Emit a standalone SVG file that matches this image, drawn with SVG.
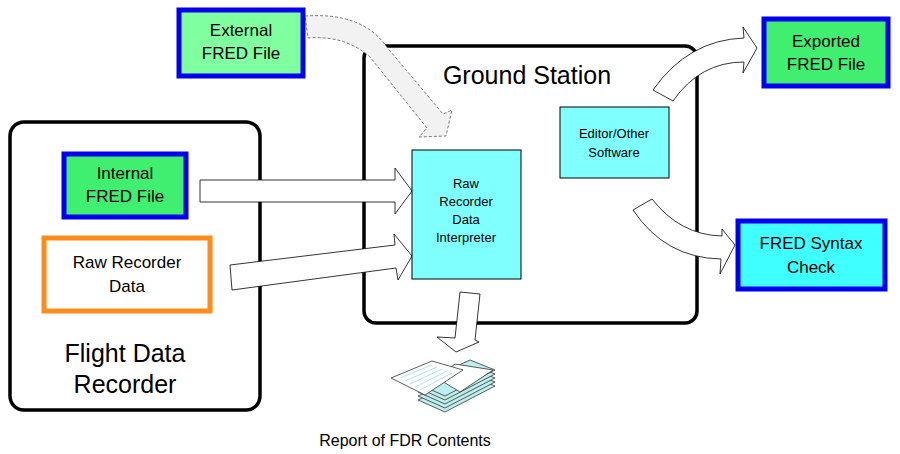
<svg xmlns="http://www.w3.org/2000/svg" width="900" height="454" viewBox="0 0 900 454">
<style>
text{font-family:"Liberation Sans",Arial,sans-serif;fill:#000;text-anchor:middle}
.frame{fill:none;stroke:#000;stroke-width:3.5}
.blk{fill:#fff;stroke:#000;stroke-width:0.8}
.pg{fill:#fff;stroke:#333;stroke-width:0.8}
.pc{fill:#bfeeee;stroke:#333;stroke-width:0.8}
</style>
<rect width="900" height="454" fill="#fff"/>
<g id="fdr"><rect class="frame" x="10" y="122" width="250" height="288" rx="14"/>
<text x="125" y="362" font-size="25">Flight Data</text><text x="125" y="393" font-size="25">Recorder</text></g>
<g id="gs"><rect class="frame" x="364" y="46" width="333" height="277" rx="12"/>
<text x="527" y="84" font-size="25">Ground Station</text></g>
<g id="connectors">
<path class="blk" d="M200,180 L395,180 L395,168 L412,191 L395,214 L395,202 L200,202 Z"/>
<path class="blk" d="M230,265 L395,245 L394,234 L412,256 L398,280 L396,268 L232,290 Z"/>
<path d="M305,16 Q362,12 386,46 L443,114 L452,110 L446,136 L419,137 L427,128 L370,57 Q345,35 308,38 Z" fill="#f2f2f2" stroke="#555" stroke-width="0.8" stroke-dasharray="3,2"/>
<path class="blk" d="M460,292 L480,294 L475,340 L479,342 L456,352 L437,337 L455,338 Z"/>
<path class="blk" d="M653,90 Q688,40 744,38 L743,27 L757,48 L743,73 L744,62 Q700,62 673,101 Z"/>
<path class="blk" d="M652,199 Q680,235 722,236 L722,229 L735,245 L720,274 L721,259 Q665,258 633,210 Z"/>
</g>
<g id="external"><rect x="179" y="10" width="124" height="66" fill="#80ffa0" stroke="#0000ee" stroke-width="5"/>
<text x="241" y="36" font-size="17">External</text><text x="241" y="59" font-size="17">FRED File</text></g>
<g id="exported"><rect x="764" y="19" width="124" height="67" fill="#40ee70" stroke="#0000ee" stroke-width="5"/>
<text x="826" y="47" font-size="17">Exported</text><text x="826" y="70" font-size="17">FRED File</text></g>
<g id="internal"><rect x="64" y="154" width="122" height="63" fill="#40ee70" stroke="#0000ee" stroke-width="5"/>
<text x="125" y="179" font-size="17">Internal</text><text x="125" y="202" font-size="17">FRED File</text></g>
<g id="raw"><rect x="44" y="238" width="166" height="73" fill="#fff" stroke="#ff8c1a" stroke-width="5"/>
<text x="127" y="268" font-size="17">Raw Recorder</text><text x="127" y="292" font-size="17">Data</text></g>
<g id="interp"><rect x="412" y="150" width="109" height="129" fill="#80ffff" stroke="#000" stroke-width="1"/>
<text x="466" y="188" font-size="13">Raw</text><text x="466" y="206" font-size="13">Recorder</text><text x="466" y="224" font-size="13">Data</text><text x="466" y="242" font-size="13">Interpreter</text></g>
<g id="editor"><rect x="560" y="107" width="109" height="71" fill="#80ffff" stroke="#000" stroke-width="1"/>
<text x="614" y="138" font-size="13">Editor/Other</text><text x="614" y="157" font-size="13">Software</text></g>
<g id="syntax"><rect x="738" y="221" width="147" height="68" fill="#40ffff" stroke="#0000ee" stroke-width="5"/>
<text x="811" y="249" font-size="17">FRED Syntax</text><text x="811" y="273" font-size="17">Check</text></g>
<g id="report">
<path class="pc" d="M418,400 L470,376 L495,386 L445,412 Z"/>
<path class="pc" d="M418,396 L470,372 L495,382 L445,408 Z"/>
<path class="pc" d="M418,392 L470,368 L495,378 L445,404 Z"/>
<path class="pc" d="M418,388 L470,364 L495,374 L445,400 Z"/>
<path class="pc" d="M418,384 L470,360 L495,370 L445,396 Z"/>
<path class="pg" d="M437,378 L455,364 L493,370 L460,392 Z"/>
<path class="pg" d="M391,378 L432,361 L463,370 L425,395 Z"/>
<path d="M400,378 L432,365 M405,381 L437,367 M410,384 L442,369 M415,387 L447,371 M420,390 L452,373" stroke="#9dd" stroke-width="0.8"/>
<text x="405" y="446" font-size="16">Report of FDR Contents</text></g>
</svg>
